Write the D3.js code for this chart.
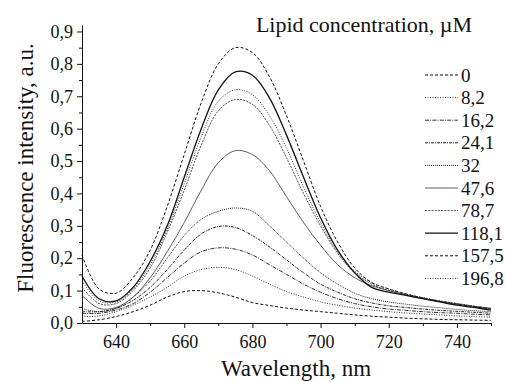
<!DOCTYPE html>
<html>
<head>
<meta charset="utf-8">
<script src="https://cdn.jsdelivr.net/npm/d3@7"></script>
<style>
  body { margin: 0; background: #fff; }
  .axis path, .axis line { stroke: #111; stroke-width: 1; }
  text { font-family: 'Liberation Serif', serif; }
</style>
</head>
<body>
<div id="chart"></div>
<script>
// wavelength grid (nm)
const wavelengths = [630, 635, 640, 645, 650, 655, 660, 665, 670, 675, 680, 685, 690, 695, 700, 705, 710, 715, 720, 725, 730, 735, 740, 745, 750]

// lipid concentrations (legend labels)
const concentrations = ["0", "8,2", "16,2", "24,1", "32", "47,6", "78,7", "118,1", "157,5", "196,8"]

// intensities, one array per concentration
const c0    = [0.005, 0.01, 0.02, 0.035, 0.055, 0.08, 0.097, 0.10, 0.093, 0.08, 0.063, 0.054, 0.046, 0.04, 0.035, 0.03, 0.025, 0.021, 0.018, 0.015, 0.013, 0.011, 0.01, 0.009, 0.008]
const c8    = [0.02, 0.022, 0.035, 0.055, 0.08, 0.11, 0.145, 0.165, 0.172, 0.165, 0.145, 0.12, 0.097, 0.08, 0.065, 0.055, 0.046, 0.04, 0.035, 0.031, 0.028, 0.025, 0.022, 0.02, 0.018]
const c16   = [0.03, 0.03, 0.04, 0.06, 0.095, 0.14, 0.185, 0.22, 0.232, 0.228, 0.21, 0.18, 0.15, 0.12, 0.095, 0.075, 0.06, 0.05, 0.043, 0.039, 0.035, 0.032, 0.03, 0.027, 0.025]
const c24   = [0.035, 0.035, 0.045, 0.07, 0.11, 0.165, 0.225, 0.275, 0.298, 0.295, 0.27, 0.235, 0.195, 0.155, 0.12, 0.095, 0.075, 0.062, 0.053, 0.048, 0.043, 0.039, 0.036, 0.033, 0.03]
const c32   = [0.045, 0.035, 0.045, 0.08, 0.13, 0.2, 0.27, 0.32, 0.345, 0.355, 0.345, 0.3, 0.25, 0.2, 0.155, 0.12, 0.092, 0.075, 0.065, 0.058, 0.052, 0.047, 0.042, 0.038, 0.035]
const c47   = [0.085, 0.045, 0.048, 0.08, 0.14, 0.22, 0.31, 0.41, 0.495, 0.532, 0.52, 0.47, 0.39, 0.31, 0.24, 0.18, 0.14, 0.115, 0.10, 0.087, 0.075, 0.066, 0.058, 0.051, 0.045]
const c78   = [0.11, 0.06, 0.06, 0.10, 0.17, 0.28, 0.41, 0.55, 0.655, 0.69, 0.675, 0.61, 0.51, 0.40, 0.30, 0.215, 0.155, 0.12, 0.10, 0.088, 0.078, 0.068, 0.06, 0.052, 0.045]
const c118  = [0.145, 0.075, 0.068, 0.11, 0.19, 0.30, 0.45, 0.60, 0.72, 0.775, 0.765, 0.695, 0.58, 0.45, 0.325, 0.225, 0.155, 0.11, 0.095, 0.085, 0.075, 0.065, 0.055, 0.048, 0.04]
const c157  = [0.21, 0.105, 0.092, 0.14, 0.225, 0.36, 0.52, 0.68, 0.80, 0.85, 0.835, 0.76, 0.64, 0.50, 0.36, 0.25, 0.17, 0.125, 0.105, 0.09, 0.077, 0.067, 0.058, 0.05, 0.043]
const c196  = [0.13, 0.068, 0.065, 0.105, 0.18, 0.29, 0.43, 0.575, 0.685, 0.72, 0.705, 0.64, 0.54, 0.42, 0.31, 0.22, 0.16, 0.125, 0.105, 0.09, 0.078, 0.068, 0.06, 0.052, 0.045]

const xTicks = [640, 660, 680, 700, 720, 740]
const xMinorTicks = [650, 670, 690, 710, 730, 750]
const yTicks = [0, 0.1, 0.2, 0.3, 0.4, 0.5, 0.6, 0.7, 0.8, 0.9]
const yTickLabels = ["0,0", "0,1", "0,2", "0,3", "0,4", "0,5", "0,6", "0,7", "0,8", "0,9"]
const yMinorTicks = [0.05, 0.15, 0.25, 0.35, 0.45, 0.55, 0.65, 0.75, 0.85]

const seriesValues = [c0, c8, c16, c24, c32, c47, c78, c118, c157, c196]

// line look per concentration
const dashes = ["3,2", "1,1.5", "4,1.2,1,1.2", "3,1,1,1", "1,1", null, "2.2,1", null, "3,2", "1,1.5"]
const widths = [1, 1, 1, 1, 1, 0.8, 0.9, 1.3, 1, 1]
const colors = ["#111", "#333", "#333", "#222", "#222", "#333", "#444", "#111", "#111", "#333"]

const FONT = "Liberation Serif"

const width = 505, height = 382
const svg = d3.select("#chart").append("svg")
    .attr("width", width)
    .attr("height", height)
    .attr("font-family", FONT)

const x = d3.scaleLinear().domain([630, 750]).range([82, 491])
const y = d3.scaleLinear().domain([0, 0.92]).range([323, 25])

// axes
svg.append("g")
    .attr("class", "axis")
    .attr("transform", "translate(0,323)")
    .call(d3.axisBottom(x).tickValues(xMinorTicks).tickSize(3).tickFormat(""))
    .call(g => g.select(".domain").remove())

svg.append("g")
    .attr("class", "axis")
    .attr("transform", "translate(0,323)")
    .call(d3.axisBottom(x).tickValues(xTicks).tickSize(5).tickSizeOuter(0).tickPadding(4))
    .attr("font-family", FONT)
    .attr("font-size", 18)
    .call(g => g.selectAll("text").attr("dy", "0.9em").attr("fill", "#111"))

svg.append("g")
    .attr("class", "axis")
    .attr("transform", "translate(82,0)")
    .call(d3.axisLeft(y).tickValues(yMinorTicks).tickSize(3).tickFormat(""))
    .call(g => g.select(".domain").remove())

svg.append("g")
    .attr("class", "axis")
    .attr("transform", "translate(82,0)")
    .call(d3.axisLeft(y).tickValues(yTicks).tickSize(5).tickSizeOuter(0).tickPadding(4)
        .tickFormat((d, i) => yTickLabels[i]))
    .attr("font-family", FONT)
    .attr("font-size", 18)
    .call(g => g.selectAll("text").attr("fill", "#111"))

// axis titles
svg.append("text")
    .attr("x", 296)
    .attr("y", 376)
    .attr("text-anchor", "middle")
    .attr("font-size", 23)
    .attr("fill", "#111")
    .text("Wavelength, nm")

svg.append("text")
    .attr("transform", "translate(33,168) rotate(-90)")
    .attr("text-anchor", "middle")
    .attr("font-size", 23)
    .attr("fill", "#111")
    .text("Fluorescence intensity, a.u.")

// curves
const line = d3.line()
    .x((d, i) => x(wavelengths[i]))
    .y(d => y(d))
    .curve(d3.curveCatmullRom.alpha(0.5))

seriesValues.forEach((vals, k) => {
    svg.append("path")
        .datum(vals)
        .attr("fill", "none")
        .attr("stroke", colors[k])
        .attr("stroke-width", widths[k])
        .attr("stroke-dasharray", dashes[k])
        .attr("d", line)
})

// legend
svg.append("text")
    .attr("x", 472)
    .attr("y", 32)
    .attr("text-anchor", "end")
    .attr("font-size", 22)
    .attr("fill", "#111")
    .text("Lipid concentration, \u00b5M")

const legend = svg.append("g")
concentrations.forEach((c, k) => {
    const ly = 75 + k * 22.6
    legend.append("line")
        .attr("x1", 425).attr("x2", 458)
        .attr("y1", ly).attr("y2", ly)
        .attr("stroke", colors[k])
        .attr("stroke-width", widths[k])
        .attr("stroke-dasharray", dashes[k])
    legend.append("text")
        .attr("x", 461)
        .attr("y", ly)
        .attr("dy", "0.35em")
        .attr("font-size", 19)
        .attr("fill", "#111")
        .text(c)
})
</script>
</body>
</html>
